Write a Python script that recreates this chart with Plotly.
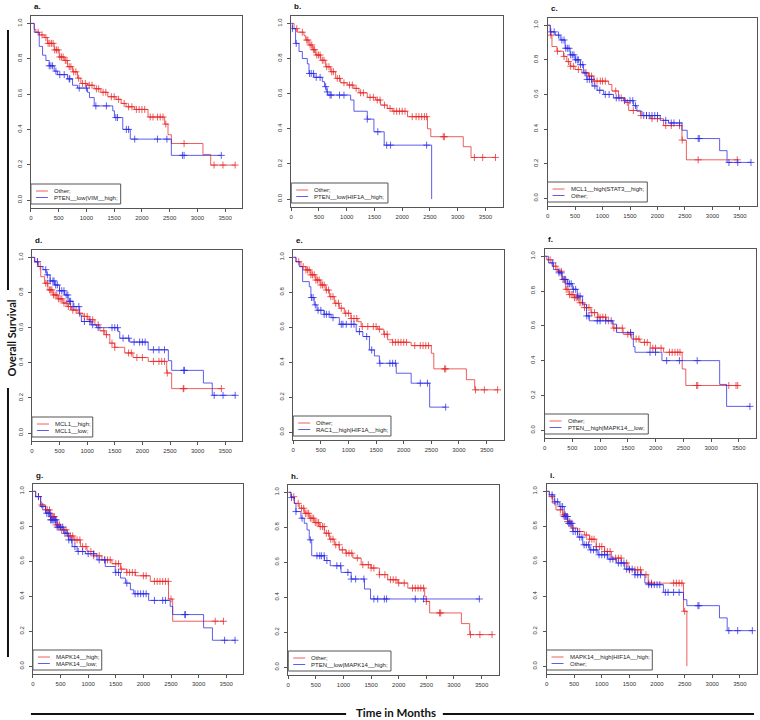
import numpy as np
import plotly.graph_objects as go

W, H = 760, 720
RED = "rgba(232,40,40,0.75)"
BLUE = "rgba(40,40,232,0.75)"

x_ticks = [0, 500, 1000, 1500, 2000, 2500, 3000, 3500]
y_ticks = [0.0, 0.2, 0.4, 0.6, 0.8, 1.0]
y_ticktext = ["0.0", "0.2", "0.4", "0.6", "0.8", "1.0"]

# ---- panel a ----
a_red_t = [0, 60, 90, 150, 240, 300, 420, 510, 600, 660, 750, 840, 900, 1020, 1140, 1260, 1385, 1535, 1625, 1715, 1865, 2110, 2410, 2470, 2530, 3100, 3240, 3680]
a_red_s = [1.0, .966, .95, .935, .92, .887, .85, .81, .79, .755, .726, .69, .66, .65, .63, .61, .585, .57, .547, .528, .513, .47, .43, .37, .32, .258, .198, .198]
a_red_c = [130, 200, 270, 310, 340, 370, 400, 430, 460, 490, 520, 550, 580, 620, 650, 690, 720, 770, 810, 860, 930, 980, 1050, 1100, 1180, 1220, 1300, 1350, 1450, 1500, 1580, 1680, 1760, 1820, 1900, 1950, 2000, 2050, 2150, 2200, 2280, 2330, 2380, 2430, 2760, 3300, 3460, 3680]
a_blue_t = [0, 60, 150, 210, 270, 330, 420, 480, 660, 750, 840, 1020, 1055, 1140, 1475, 1505, 1655, 1790, 2530, 3430]
a_blue_s = [1.0, .95, .87, .82, .79, .76, .73, .71, .686, .65, .634, .61, .58, .533, .505, .467, .40, .345, .253, .253]
a_blue_c = [330, 360, 390, 450, 520, 600, 690, 700, 870, 1000, 1170, 1360, 1530, 1560, 1720, 1760, 1870, 2280, 2450, 2730, 2760, 3430]

# ---- panel b ----
b_red_t = [0, 50, 110, 230, 260, 320, 380, 440, 530, 620, 710, 800, 890, 1010, 1130, 1220, 1370, 1520, 1610, 1730, 1820, 2095, 2455, 2515, 3100, 3240, 3680]
b_red_s = [1.0, .97, .95, .93, .905, .877, .85, .82, .79, .753, .725, .687, .662, .649, .63, .605, .579, .564, .535, .516, .50, .469, .40, .355, .298, .237, .237]
b_red_c = [100, 200, 280, 300, 340, 370, 400, 420, 460, 490, 520, 560, 590, 640, 680, 730, 760, 830, 870, 950, 1050, 1100, 1170, 1250, 1300, 1420, 1480, 1550, 1600, 1680, 1780, 1850, 1900, 1950, 2000, 2050, 2180, 2250, 2300, 2350, 2400, 2440, 2740, 2760, 3300, 3450, 3680]
b_blue_t = [0, 20, 78, 140, 200, 290, 320, 410, 560, 600, 640, 660, 1070, 1130, 1370, 1490, 1675, 2530]
b_blue_s = [1.0, .97, .886, .84, .80, .77, .715, .693, .668, .64, .61, .592, .564, .50, .455, .383, .307, 0.0]
b_blue_c = [20, 90, 330, 360, 400, 450, 520, 620, 650, 700, 720, 870, 950, 1370, 1560, 1720, 1790, 2440]

# ---- panel c ----
c_red_t = [0, 50, 80, 170, 290, 350, 410, 500, 625, 745, 840, 1110, 1170, 1290, 1415, 1475, 1690, 1870, 2110, 2445, 2525, 3450]
c_red_s = [1.0, .943, .877, .85, .82, .79, .763, .744, .725, .706, .677, .658, .62, .58, .554, .507, .478, .46, .42, .336, .222, .222]
c_red_c = [60, 180, 300, 380, 420, 470, 560, 700, 760, 800, 850, 900, 960, 1000, 1050, 1240, 1340, 1450, 1560, 1700, 1800, 1900, 2000, 2150, 2250, 2400, 2450, 2740, 3450]
c_blue_t = [0, 50, 140, 230, 320, 410, 500, 595, 655, 715, 810, 900, 1020, 1200, 1385, 1565, 1625, 1720, 2050, 2200, 2445, 2540, 3130, 3265, 3700]
c_blue_s = [1.0, .962, .943, .915, .867, .829, .80, .772, .725, .687, .649, .624, .60, .58, .564, .535, .503, .478, .45, .435, .393, .345, .275, .207, .207]
c_blue_c = [60, 120, 200, 260, 300, 330, 360, 390, 420, 450, 480, 510, 540, 560, 600, 640, 680, 720, 760, 800, 860, 950, 1050, 1120, 1250, 1300, 1400, 1500, 1550, 1600, 1750, 1800, 1850, 1900, 1950, 2000, 2150, 2250, 2300, 2400, 2740, 2760, 3300, 3460, 3700]

# ---- panel d ----
d_red_t = [0, 50, 110, 160, 230, 290, 380, 470, 560, 650, 715, 835, 925, 1015, 1140, 1230, 1320, 1410, 1500, 1680, 1830, 2105, 2440, 2530, 3435]
d_red_s = [1.0, .975, .948, .89, .853, .815, .786, .764, .74, .72, .70, .682, .664, .645, .616, .582, .56, .512, .488, .456, .43, .408, .342, .253, .253]
d_red_c = [100, 150, 250, 280, 320, 340, 360, 390, 420, 450, 480, 510, 540, 580, 620, 660, 700, 740, 800, 860, 950, 1000, 1050, 1100, 1200, 1300, 1350, 1450, 1500, 1750, 1800, 1900, 2000, 2200, 2300, 2350, 2400, 2450, 2740, 2750, 3430]
d_blue_t = [0, 50, 110, 200, 260, 330, 410, 500, 590, 655, 745, 865, 895, 1075, 1170, 1560, 1590, 1770, 2105, 2470, 2530, 3105, 3265, 3680]
d_blue_s = [1.0, .975, .948, .93, .90, .866, .843, .81, .786, .75, .72, .673, .635, .616, .60, .578, .54, .518, .474, .412, .357, .285, .215, .215]
d_blue_c = [100, 250, 280, 330, 380, 400, 430, 460, 500, 540, 580, 620, 650, 680, 700, 760, 850, 950, 1050, 1100, 1200, 1450, 1500, 1550, 1650, 1750, 1850, 1950, 2000, 2050, 2200, 2300, 2400, 2750, 2760, 3300, 3460, 3680]

# ---- panel e ----
e_red_t = [0, 50, 140, 230, 320, 410, 500, 590, 655, 745, 835, 925, 1045, 1170, 1230, 1530, 1640, 1710, 1800, 2135, 2500, 2545, 3135, 3285, 3710]
e_red_s = [1.0, .975, .947, .928, .90, .87, .842, .813, .775, .737, .709, .68, .65, .632, .604, .589, .56, .528, .514, .495, .451, .362, .30, .242, .242]
e_red_c = [100, 180, 230, 260, 290, 320, 350, 380, 410, 440, 470, 500, 530, 560, 600, 640, 680, 720, 770, 820, 870, 950, 1000, 1050, 1100, 1150, 1250, 1350, 1450, 1500, 1560, 1650, 1700, 1800, 1850, 1900, 1950, 2000, 2050, 2200, 2300, 2350, 2400, 2450, 2740, 2760, 3300, 3460, 3700]
e_blue_t = [0, 50, 110, 170, 290, 320, 380, 430, 560, 685, 835, 1140, 1260, 1380, 1470, 1560, 1865, 2135, 2470, 2760]
e_blue_s = [1.0, .975, .947, .861, .832, .77, .728, .697, .674, .655, .617, .575, .547, .47, .436, .394, .337, .28, .143, .143]
e_blue_c = [330, 360, 400, 450, 500, 560, 600, 650, 720, 870, 900, 960, 1050, 1100, 1200, 1330, 1420, 1570, 1750, 1800, 1850, 2300, 2430, 2760]

# ---- panel f ----
f_red_t = [0, 40, 135, 225, 315, 380, 440, 530, 620, 715, 835, 960, 1110, 1230, 1415, 1570, 1720, 1905, 2145, 2480, 2545, 3500]
f_red_s = [1.0, .98, .943, .914, .867, .81, .78, .762, .733, .705, .676, .65, .629, .587, .552, .524, .505, .472, .448, .352, .257, .257]
f_red_c = [100, 200, 260, 300, 330, 360, 390, 420, 450, 480, 510, 540, 570, 600, 640, 680, 720, 760, 800, 850, 900, 960, 1000, 1050, 1100, 1150, 1250, 1300, 1400, 1500, 1550, 1650, 1700, 1800, 1850, 1950, 2000, 2100, 2250, 2300, 2350, 2400, 2440, 2740, 2760, 3320, 3450, 3480]
f_blue_t = [0, 70, 160, 255, 315, 410, 500, 590, 685, 755, 805, 1230, 1295, 1600, 1630, 2115, 3155, 3280, 3700]
f_blue_s = [1.0, .962, .924, .905, .867, .842, .81, .771, .724, .657, .629, .61, .562, .48, .448, .40, .263, .137, .137]
f_blue_c = [150, 260, 300, 350, 380, 420, 450, 480, 520, 560, 600, 640, 760, 800, 950, 1000, 1100, 1200, 1550, 1900, 2000, 2200, 2430, 2750, 3700]

# ---- panel g ----
g_red_t = [0, 50, 140, 230, 320, 410, 500, 620, 740, 860, 980, 1100, 1250, 1430, 1585, 1700, 1855, 2125, 2455, 2530, 3450]
g_red_s = [1.0, .97, .922, .894, .855, .808, .78, .745, .722, .684, .656, .631, .608, .586, .555, .536, .517, .485, .384, .257, .257]
g_red_c = [100, 160, 230, 260, 300, 330, 350, 370, 390, 420, 450, 480, 520, 560, 600, 640, 680, 720, 760, 800, 850, 900, 960, 1050, 1100, 1200, 1300, 1350, 1400, 1500, 1550, 1600, 1700, 1750, 1800, 1850, 2000, 2050, 2200, 2250, 2300, 2350, 2400, 2450, 2500, 3300, 3450]
g_blue_t = [0, 50, 140, 230, 320, 440, 560, 650, 710, 800, 950, 1160, 1310, 1490, 1585, 1675, 1765, 1825, 2095, 2485, 2530, 3090, 3250, 3660]
g_blue_s = [1.0, .97, .913, .875, .837, .795, .76, .722, .684, .656, .643, .608, .57, .536, .504, .475, .437, .414, .376, .342, .295, .219, .148, .148]
g_blue_c = [100, 180, 250, 280, 300, 320, 340, 360, 380, 400, 420, 440, 470, 500, 540, 580, 620, 650, 700, 760, 820, 900, 1000, 1100, 1200, 1300, 1500, 1550, 1700, 1850, 1900, 1950, 2000, 2050, 2200, 2350, 2400, 2750, 2760, 3470, 3660]

# ---- panel h ----
h_red_t = [0, 50, 110, 200, 290, 380, 470, 560, 655, 745, 835, 925, 1045, 1170, 1320, 1500, 1650, 1800, 1985, 2165, 2470, 2500, 2560, 3135, 3285, 3690]
h_red_s = [1.0, .975, .937, .909, .88, .852, .827, .804, .766, .732, .70, .671, .652, .624, .586, .567, .529, .50, .481, .452, .405, .376, .31, .249, .186, .186]
h_red_c = [100, 180, 240, 280, 310, 340, 370, 400, 430, 460, 490, 520, 550, 580, 620, 650, 690, 730, 770, 810, 860, 920, 980, 1050, 1100, 1150, 1250, 1350, 1450, 1500, 1550, 1650, 1750, 1850, 1900, 1950, 2000, 2100, 2250, 2300, 2350, 2400, 2450, 2500, 2740, 2760, 3300, 3470, 3690]
h_blue_t = [0, 50, 110, 140, 230, 290, 340, 380, 425, 655, 760, 955, 1140, 1380, 1490, 3465]
h_blue_s = [1.0, .97, .937, .89, .852, .823, .785, .728, .637, .61, .58, .542, .504, .447, .39, .39]
h_blue_c = [60, 140, 250, 400, 520, 570, 600, 650, 700, 880, 950, 1080, 1140, 1220, 1370, 1550, 1620, 1740, 1780, 2300, 2450, 3460]

# ---- panel i ----
i_red_t = [0, 50, 110, 170, 290, 380, 445, 565, 685, 780, 900, 1050, 1175, 1355, 1475, 1720, 1840, 2480, 2540]
i_red_s = [1.0, .97, .932, .894, .865, .827, .79, .77, .75, .726, .684, .656, .618, .59, .551, .523, .475, .314, 0.0]
i_red_c = [100, 250, 300, 340, 380, 420, 480, 600, 720, 780, 820, 860, 900, 960, 1000, 1050, 1100, 1150, 1250, 1300, 1350, 1450, 1500, 1600, 1650, 1700, 1800, 1850, 1900, 2300, 2350, 2400, 2450, 2500]
i_blue_t = [0, 50, 140, 230, 320, 385, 475, 565, 655, 780, 930, 1110, 1265, 1415, 1600, 1780, 1840, 2115, 2480, 2540, 3130, 3270, 3725]
i_blue_s = [1.0, .98, .94, .913, .856, .817, .77, .738, .694, .665, .637, .612, .59, .555, .523, .475, .466, .422, .38, .346, .276, .203, .203]
i_blue_c = [100, 150, 200, 260, 290, 320, 340, 360, 380, 400, 420, 440, 460, 480, 520, 560, 600, 640, 680, 720, 760, 800, 850, 900, 950, 1000, 1050, 1100, 1150, 1200, 1300, 1350, 1400, 1450, 1500, 1550, 1600, 1650, 1700, 1850, 1900, 1950, 2000, 2050, 2150, 2200, 2300, 2400, 2740, 2760, 3300, 3460, 3725]

panel_tags = ["a.", "b.", "c.", "d.", "e.", "f.", "g.", "h.", "i."]
legend_names = [
    ["Other;", "PTEN__low|VIM__high;"],
    ["Other;", "PTEN__low|HIF1A__high;"],
    ["MCL1__high|STAT3__high;", "Other;"],
    ["MCL1__high;", "MCL1__low;"],
    ["Other;", "RAC1__high|HIF1A__high;"],
    ["Other;", "PTEN__high|MAPK14__low;"],
    ["MAPK14__high;", "MAPK14__low;"],
    ["Other;", "PTEN__low|MAPK14__high;"],
    ["MAPK14__high|HIF1A__high;", "Other;"],
]
curves = [
    [(a_red_t, a_red_s, a_red_c), (a_blue_t, a_blue_s, a_blue_c)],
    [(b_red_t, b_red_s, b_red_c), (b_blue_t, b_blue_s, b_blue_c)],
    [(c_red_t, c_red_s, c_red_c), (c_blue_t, c_blue_s, c_blue_c)],
    [(d_red_t, d_red_s, d_red_c), (d_blue_t, d_blue_s, d_blue_c)],
    [(e_red_t, e_red_s, e_red_c), (e_blue_t, e_blue_s, e_blue_c)],
    [(f_red_t, f_red_s, f_red_c), (f_blue_t, f_blue_s, f_blue_c)],
    [(g_red_t, g_red_s, g_red_c), (g_blue_t, g_blue_s, g_blue_c)],
    [(h_red_t, h_red_s, h_red_c), (h_blue_t, h_blue_s, h_blue_c)],
    [(i_red_t, i_red_s, i_red_c), (i_blue_t, i_blue_s, i_blue_c)],
]

# plot frames in pixels (left, top, right, bottom) and legend box widths
frames = [
    (29, 16, 241, 208), (290, 16, 502, 207), (547, 18, 757, 206),
    (30, 250, 241, 441), (292, 250, 503, 440), (544, 249, 756, 438),
    (31, 484, 242, 674), (287, 485, 498, 675), (546, 484, 757, 674),
]
legend_w = [90, 97, 100, 61, 98, 104, 69, 103, 106]

FONT = "Liberation Sans, Arial, sans-serif"
AX = "#555555"


def px(x):
    return x / W


def py(y):
    return 1 - y / H


fig = go.Figure()
layout = dict(
    width=W, height=H, margin=dict(l=0, r=0, t=0, b=0),
    paper_bgcolor="white", plot_bgcolor="white", showlegend=False,
    font=dict(family=FONT, size=6, color="#333333"),
)
shapes = []
annotations = []

for k in range(9):
    n = k + 1
    xr = "x" if n == 1 else f"x{n}"
    yr = "y" if n == 1 else f"y{n}"
    l, t, r, b = frames[k]

    for (tt, ss, cc), col in zip(curves[k], [RED, BLUE]):
        fig.add_trace(go.Scatter(
            x=tt, y=ss, mode="lines", line=dict(color=col, width=1, shape="hv"),
            xaxis=xr, yaxis=yr, hoverinfo="skip",
        ))
        # censor marks sit on the step curve
        t_arr = np.array(tt)
        s_arr = np.array(ss)
        idx = np.searchsorted(t_arr, cc, side="right") - 1
        fig.add_trace(go.Scatter(
            x=cc, y=s_arr[idx], mode="markers",
            marker=dict(symbol="cross-thin", size=5, line=dict(color=col, width=1)),
            xaxis=xr, yaxis=yr, hoverinfo="skip",
        ))

    layout["xaxis" if n == 1 else f"xaxis{n}"] = dict(
        domain=[px(l), px(r)], anchor=yr, range=[0, 3810],
        tickvals=x_ticks, ticks="outside", ticklen=3, tickcolor=AX,
        showline=True, mirror=True, linecolor=AX, linewidth=1,
        showgrid=False, zeroline=False, tickfont=dict(size=6),
        ticklabelstandoff=1,
    )
    layout["yaxis" if n == 1 else f"yaxis{n}"] = dict(
        domain=[py(b), py(t)], anchor=xr, range=[-0.045, 1.042],
        tickvals=y_ticks, ticktext=y_ticktext, tickangle=-90,
        ticks="outside", ticklen=3, tickcolor=AX,
        showline=True, mirror=True, linecolor=AX, linewidth=1,
        showgrid=False, zeroline=False, tickfont=dict(size=6),
        ticklabelstandoff=3,
    )

    # panel tag
    annotations.append(dict(
        x=px(l + 1), y=py(t - 9), xref="paper", yref="paper", text=f"<b>{panel_tags[k]}</b>",
        showarrow=False, xanchor="left", yanchor="middle",
        font=dict(size=8, color="#111111", family=FONT),
    ))

    # legend box (bottom-left, R style)
    lb = b - 4
    lt = lb - 20
    shapes.append(dict(type="rect", xref="paper", yref="paper",
                       x0=px(l), x1=px(l + legend_w[k]), y0=py(lb), y1=py(lt),
                       line=dict(color=AX, width=1), fillcolor="white"))
    for j, (name, col) in enumerate(zip(legend_names[k], [RED, BLUE])):
        yy = lt + 7 + 6.5 * j
        shapes.append(dict(type="line", xref="paper", yref="paper",
                           x0=px(l + 5), x1=px(l + 17), y0=py(yy), y1=py(yy),
                           line=dict(color=col, width=1)))
        annotations.append(dict(
            x=px(l + 21), y=py(yy), xref="paper", yref="paper", text=name,
            showarrow=False, xanchor="left", yanchor="middle",
            font=dict(size=6, color="#222222", family=FONT),
        ))

# outer axis titles with rules
annotations.append(dict(
    x=px(9.5), y=py(338), xref="paper", yref="paper", text="<b>Overall Survival</b>",
    textangle=-90, showarrow=False, xanchor="center", yanchor="middle",
    font=dict(size=11, color="#111111", family="Lato, sans-serif"),
))
annotations.append(dict(
    x=px(395), y=py(712), xref="paper", yref="paper", text="<b>Time in Months</b>",
    showarrow=False, xanchor="center", yanchor="middle",
    font=dict(size=11.5, color="#111111", family="Lato, sans-serif"),
))
for x0, y0, x1, y1 in [(6, 30, 6, 290), (6, 388, 6, 657), (29, 714, 345, 714), (442, 714, 754, 714)]:
    shapes.append(dict(type="line", xref="paper", yref="paper",
                       x0=px(x0), x1=px(x1), y0=py(y0), y1=py(y1),
                       line=dict(color="#111111", width=2)))

layout["shapes"] = shapes
layout["annotations"] = annotations
fig.update_layout(**layout)

# the page body has a default 8px margin; drop it so the figure fills the window
fig.write_html(
    "out.html",
    config={"displayModeBar": False},
    post_script="document.body.style.margin='0';",
)
